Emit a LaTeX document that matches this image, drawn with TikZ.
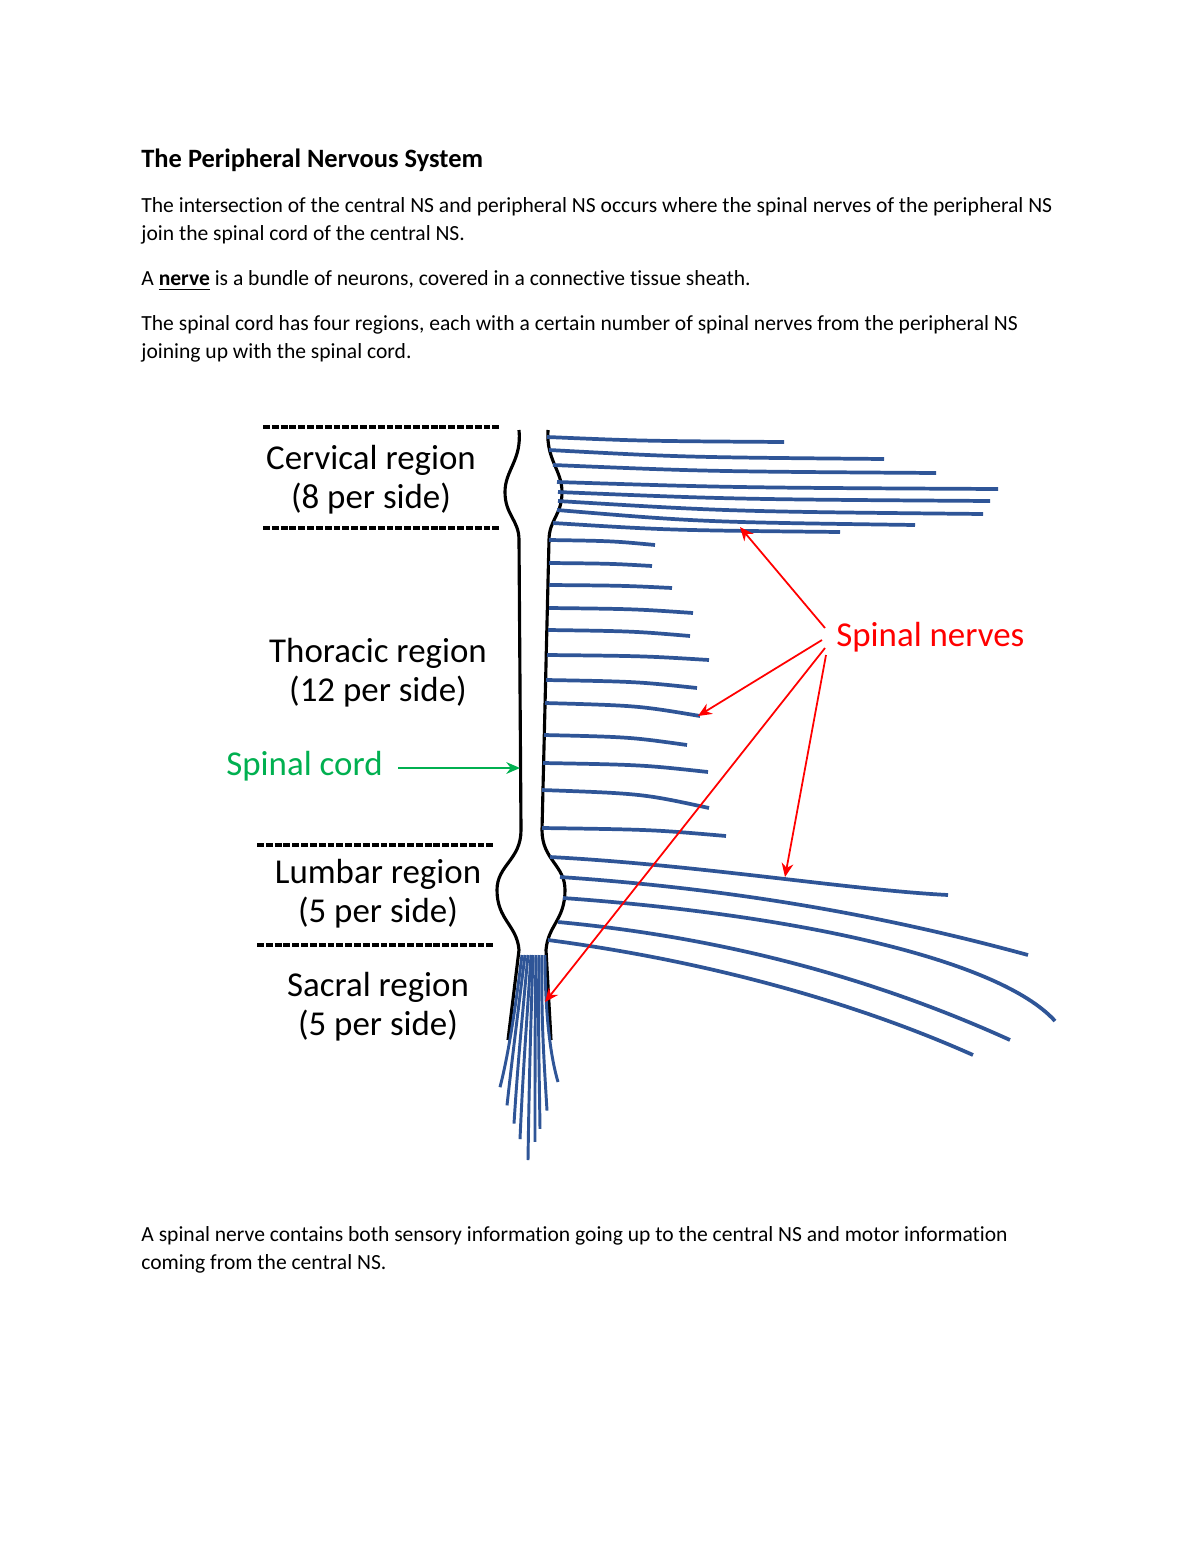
\documentclass[tikz,border=0pt]{standalone}
\usepackage{fontspec}
\setmainfont[Ligatures=NoCommon]{Carlito}
\usetikzlibrary{arrows.meta}
\definecolor{nv}{HTML}{2F5597}
\definecolor{rd}{HTML}{FF0000}
\definecolor{gr}{HTML}{00B050}
\begin{document}
\begin{tikzpicture}[x=0.51pt,y=-0.51pt,
 body/.style={anchor=base west,inner sep=0,font=\fontsize{11}{13}\selectfont},
 lab/.style={align=center,inner sep=0,font=\fontsize{17.8}{20}\selectfont},
 dashln/.style={line width=1.6pt,dash pattern=on 3.5pt off 1pt},
 cord/.style={line width=1.6pt,black},
 nerve/.style={line width=1.9pt,nv},
 rarr/.style={rd,line width=0.9pt,-{Stealth[length=7pt,width=6pt]}},
 garr/.style={gr,line width=0.9pt,-{Stealth[length=7pt,width=6pt]}}]
\useasboundingbox (0,0) rectangle (1200,1553);
\fill[white] (0,0) rectangle (1200,1553);
\node[body,font=\fontsize{13.5}{15}\selectfont\bfseries] (title) at (141,168) {The Peripheral Nervous System};
\node[body] (t1) at (141,213) {The intersection of the central NS and peripheral NS occurs where the spinal nerves of the peripheral NS};
\node[body] (t2) at (141,241) {join the spinal cord of the central NS.};
\node[body] (t3) at (141,286) {A \textbf{\underline{nerve}} is a bundle of neurons, covered in a connective tissue sheath.};
\node[body] (t4) at (141,330) {The spinal cord has four regions, each with a certain number of spinal nerves from the peripheral NS};
\node[body] (t5) at (141,358) {joining up with the spinal cord.};
\node[body] (t6) at (141,1241) {A spinal nerve contains both sensory information going up to the central NS and motor information};
\node[body] (t7) at (141,1269) {coming from the central NS.};
% dashed
\draw[dashln] (263,427) -- (499,427);
\draw[dashln] (263,528) -- (499,528);
\draw[dashln] (257,845) -- (493,845);
\draw[dashln] (257,945) -- (493,945);
% labels
\node[lab] (cerv) at (371,480) {Cervical region\\(8 per side)};
\node[lab] (thor) at (378,673) {Thoracic region\\(12 per side)};
\node[lab] (lumb) at (378,894) {Lumbar region\\(5 per side)};
\node[lab] (sacr) at (378,1007) {Sacral region\\(5 per side)};
% cord
\draw[cord] (519,430) .. controls (522,460) and (505,470) .. (505,492) .. controls (505,515) and (519,520) .. (519,540) -- (521,830) .. controls (521,860) and (497,865) .. (497,890) .. controls (497,920) and (517,925) .. (519,950) -- (508,1040);
\draw[cord] (548,430) .. controls (546,460) and (562,470) .. (562,492) .. controls (562,515) and (549,520) .. (549,540) -- (542,830) .. controls (542,860) and (565,865) .. (565,890) .. controls (565,920) and (548,925) .. (546,950) -- (551,1040);
% cervical nerves
\foreach \a/\b/\c/\d in {547/437/784/442, 549/450/884/459, 553/465/936/473, 557/482/998/489, 558/492/990/501, 558/501/983/514, 557/510/915/525, 553/523/840/532}
 \draw[nerve] (\a,\b) .. controls ({\a+(\c-\a)*0.4},{\b+(\d-\b)*0.8}) .. (\c,\d);
% thoracic
\foreach \a/\b/\c/\d in {549/540/655/545, 549/563/652/566, 549/585/672/588, 549/608/693/613, 548/630/690/636, 547/655/709/660, 546/680/697/688, 545/703/700/716, 544/735/687/745, 543/763/708/772, 542/790/709/808, 542/828/726/836}
 \draw[nerve] (\a,\b) .. controls ({\a+(\c-\a)*0.6},{\b+(\d-\b)*0.2}) .. (\c,\d);
% lumbar
\draw[nerve] (550,857) .. controls (700,865) and (850,890) .. (948,895);
\draw[nerve] (560,877) .. controls (750,890) and (900,920) .. (1028,955);
\draw[nerve] (563,898) .. controls (800,915) and (1000,960) .. (1055,1021);
\draw[nerve] (558,922) .. controls (750,940) and (900,990) .. (1010,1040);
\draw[nerve] (548,940) .. controls (700,960) and (850,1000) .. (973,1055);
% sacral
\foreach \s/\e/\m in {522/500/514, 525/507/517, 528/514/522, 531/520/527, 533/528/531, 536/535/535, 539/540/538, 542/547/541, 545/558/545}
 \draw[nerve,line width=1.5pt] (\s,955) .. controls (\m,1020) and ({(\m+\e)/2},1060) .. (\e,{1160-abs(\e-528)*2.6});
% arrows
\node[inner sep=0,anchor=west,rd,font=\fontsize{17.8}{20}\selectfont] (sn) at (836,637) {Spinal nerves};
\draw[rarr] (825,628) -- (740,527);
\draw[rarr] (822,640) -- (698,716);
\draw[rarr] (825,648) -- (545,1002);
\draw[rarr] (826,655) -- (785,877);
\node[inner sep=0,anchor=west,gr,font=\fontsize{17.8}{20}\selectfont] (sc) at (226,766) {Spinal cord};
\coordinate (cordpt) at (520,768);
\draw[garr] (398,768) -- (cordpt);
\end{tikzpicture}
\end{document}
